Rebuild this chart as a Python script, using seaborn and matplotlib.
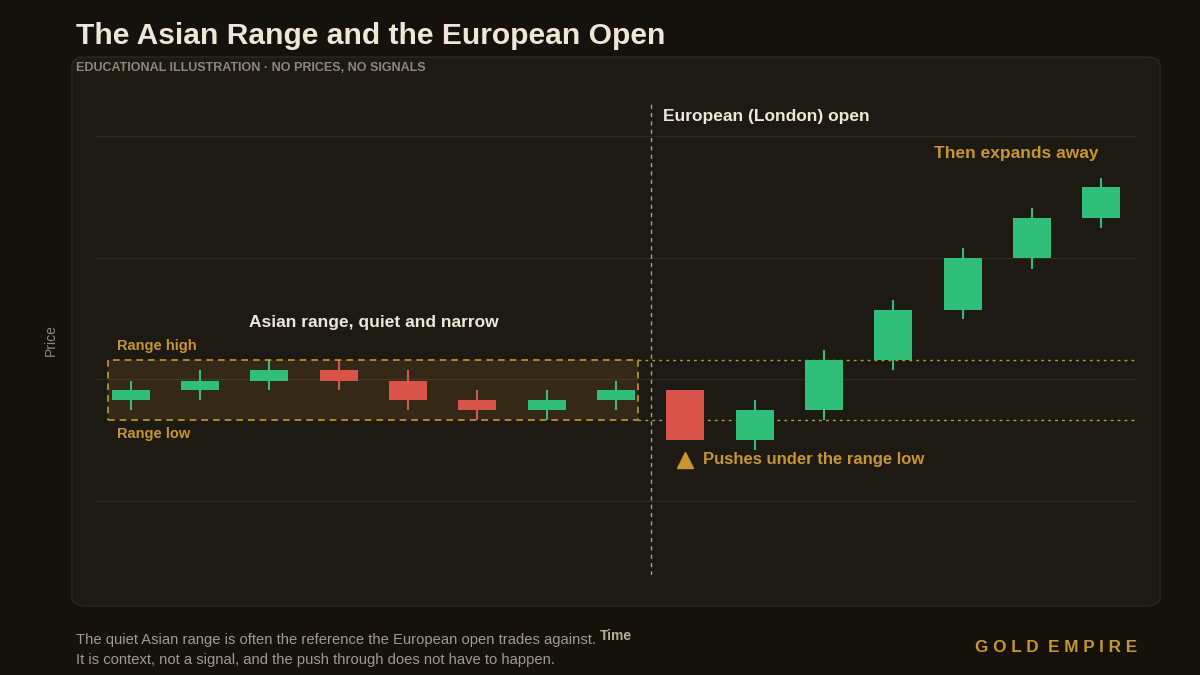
import matplotlib
matplotlib.use("Agg")
import matplotlib.pyplot as plt
from matplotlib.patches import FancyBboxPatch, Rectangle
import seaborn as sns

sns.set_theme(style="dark")
plt.rcParams['font.family'] = ['Liberation Sans', 'DejaVu Sans']

idx    = list(range(15))
opens  = [8.3, 9.1, 9.9, 10.8, 9.9, 8.3, 7.5, 8.3, 9.1, 5.0, 7.5, 11.6, 15.7, 20.0, 23.3]
closes = [9.1, 9.9, 10.8, 9.9, 8.3, 7.5, 8.3, 9.1, 5.0, 7.5, 11.6, 15.7, 20.0, 23.3, 25.8]
highs  = [9.9, 10.8, 11.6, 11.6, 10.8, 9.1, 9.1, 9.9, 9.1, 8.3, 12.4, 16.5, 20.8, 24.1, 26.6]
lows   = [7.5, 8.3, 9.1, 9.1, 7.5, 6.7, 6.7, 7.5, 5.0, 4.2, 6.7, 10.8, 15.0, 19.1, 22.5]
range_high, range_low = 11.6, 6.65
grid_vals = [0, 10, 20, 30]

BG = "#15120c"; PANEL = "#1d1913"; GREEN = "#2fbf78"; RED = "#d9534a"; GOLD = "#c9962e"
TXT = "#efe6d6"; MUTED = "#8f877a"

fig = plt.figure(figsize=(12, 6.75), dpi=100, facecolor=BG)
fig.patches.append(FancyBboxPatch((72/1200, 1-606/675), 1088/1200, 549/675,
    boxstyle="round,pad=0,rounding_size=0.012", transform=fig.transFigure,
    facecolor=PANEL, edgecolor="#2c271f", lw=1, zorder=-5))
ax = fig.add_axes([0.08, 0.148, 0.8667, 0.704])
ax.set_zorder(2)
ax.set_facecolor("none")
ax.patch.set_alpha(0)
for s in ax.spines.values(): s.set_visible(False)
ax.set_xlim(-0.5, 14.5); ax.set_ylim(-6.1, 33)
ax.set_xticks([]); ax.set_yticks([])
ax.grid(False)
for g in grid_vals:
    ax.axhline(g, color="#2e2a1f", lw=1, zorder=0)

# range box
ax.add_patch(Rectangle((-0.33, range_low), 7.65, range_high-range_low,
    facecolor=GOLD, alpha=0.13, edgecolor="none", zorder=1))
ax.add_patch(Rectangle((-0.33, range_low), 7.65, range_high-range_low,
    facecolor="none", edgecolor=GOLD, ls=(0, (4, 3)), lw=1.2, zorder=3))
for v in (range_high, range_low):
    ax.plot([7.32, 14.5], [v, v], color=GOLD, ls=(0, (2, 3)), lw=1, zorder=1)
ax.axvline(7.5, color="#a89e89", ls=(0, (3, 3)), lw=1.0, zorder=1)

colors = [GREEN if c >= o else RED for o, c in zip(opens, closes)]
ax.vlines(idx, lows, highs, colors=colors, lw=1.5, zorder=2)
ax.bar(idx, [abs(c-o) for o, c in zip(opens, closes)], bottom=[min(o, c) for o, c in zip(opens, closes)],
       width=0.55, color=colors, edgecolor="none", linewidth=0, zorder=3)

ax.text(0.38, range_high+0.6, "Range high", color=GOLD, fontsize=10.5, fontweight="bold", va="bottom", ha="center")
ax.text(0.33, range_low-0.6, "Range low", color=GOLD, fontsize=10.5, fontweight="bold", va="top", ha="center")
ax.text(3.5, 14.7, "Asian range, quiet and narrow", color=TXT, fontsize=12.5, fontweight="bold", ha="center", va="center")
ax.text(7.68, 31.6, "European (London) open", color=TXT, fontsize=12.5, fontweight="bold", va="center")
ax.text(12.77, 28.6, "Then expands away", color=GOLD, fontsize=12.5, fontweight="bold", ha="center", va="center")
ax.plot([8], [3.4], marker="^", color=GOLD, ms=11, zorder=4)
ax.text(8.25, 3.4, "Pushes under the range low", color=GOLD, fontsize=12, fontweight="bold", va="center")

fig.text(76/1200, 1-36/675, "The Asian Range and the European Open", color=TXT, fontsize=21.6, fontweight="bold", va="center")
fig.text(76/1200, 1-68/675, "EDUCATIONAL ILLUSTRATION · NO PRICES, NO SIGNALS", color=MUTED, fontsize=9, fontweight="bold", va="center")
fig.text(51/1200, 1-340/675, "Price", color=MUTED, fontsize=10, rotation=90, ha="center", va="center")
fig.text(616/1200, 1-636/675, "Time", color="#b8ad98", fontsize=10, fontweight="bold", ha="center", va="center")
fig.text(76/1200, 1-640/675, "The quiet Asian range is often the reference the European open trades against.", color="#a39a8b", fontsize=10.6, va="center")
fig.text(76/1200, 1-660/675, "It is context, not a signal, and the push through does not have to happen.", color="#a39a8b", fontsize=10.6, va="center")
fig.text(1137/1200, 1-647/675, "G O L D  E M P I R E", color=GOLD, fontsize=12.3, fontweight="bold", ha="right", va="center")

fig.savefig("out.png", facecolor=BG)
